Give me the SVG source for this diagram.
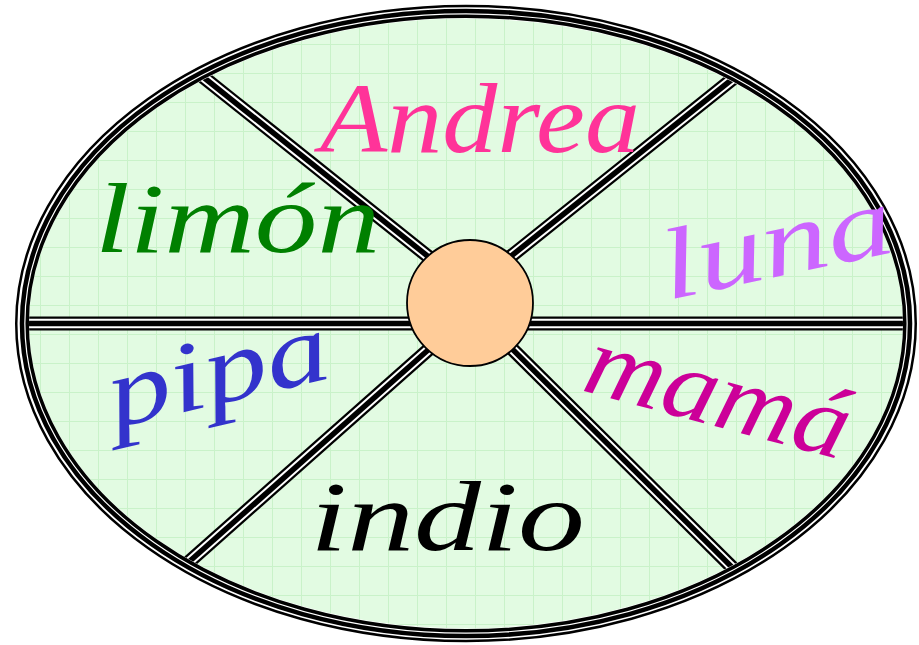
<svg xmlns="http://www.w3.org/2000/svg" width="919" height="645" viewBox="0 0 919 645">
  <defs>
    <pattern id="grid" width="29" height="29" patternUnits="userSpaceOnUse" x="11" y="15">
      <rect width="29" height="29" fill="#E2FBE2"/>
      <path d="M0 0.5H29M0.5 0V29" stroke="#C9F2C9" stroke-width="1" fill="none"/>
    </pattern>
    <clipPath id="inside">
      <ellipse cx="466" cy="323.5" rx="439" ry="307"/>
    </clipPath>
  </defs>
  <style>
    .s1{stroke:#000;stroke-width:14;fill:none}
    .s2{stroke:#fff;stroke-width:9.5;fill:none}
    .s3{stroke:#000;stroke-width:5.5;fill:none}
    .w{font-family:"Liberation Serif","DejaVu Serif",serif;font-style:italic;font-size:100px}
  </style>
  <rect width="919" height="645" fill="#fff"/>
  <g id="board">
    <ellipse cx="466" cy="323.5" rx="444.5" ry="312" fill="url(#grid)"/>
  </g>
  <g id="connectors" clip-path="url(#inside)">
    <g class="s1">
      <line x1="0" y1="323.5" x2="440" y2="323.5"/>
      <line x1="500" y1="323.5" x2="919" y2="323.5"/>
      <line x1="180" y1="58.5" x2="445" y2="270"/>
      <line x1="760" y1="57" x2="495" y2="269"/>
      <line x1="160" y1="587.5" x2="445" y2="335"/>
      <line x1="760" y1="595" x2="497" y2="334"/>
    </g>
    <g class="s2">
      <line x1="0" y1="323.5" x2="440" y2="323.5"/>
      <line x1="500" y1="323.5" x2="919" y2="323.5"/>
      <line x1="180" y1="58.5" x2="445" y2="270"/>
      <line x1="760" y1="57" x2="495" y2="269"/>
      <line x1="160" y1="587.5" x2="445" y2="335"/>
      <line x1="760" y1="595" x2="497" y2="334"/>
    </g>
    <g class="s3">
      <line x1="0" y1="323.5" x2="440" y2="323.5"/>
      <line x1="500" y1="323.5" x2="919" y2="323.5"/>
      <line x1="180" y1="58.5" x2="445" y2="270"/>
      <line x1="760" y1="57" x2="495" y2="269"/>
      <line x1="160" y1="587.5" x2="445" y2="335"/>
      <line x1="760" y1="595" x2="497" y2="334"/>
    </g>
  </g>
  <g id="rim" fill="none">
    <ellipse cx="466" cy="323.5" rx="444" ry="312" stroke="#fff" stroke-width="14"/>
    <ellipse cx="466" cy="323.5" rx="449.75" ry="317.5" stroke="#000" stroke-width="2.5"/>
    <ellipse cx="466" cy="323.5" rx="444" ry="312.5" stroke="#000" stroke-width="4.5"/>
    <ellipse cx="466" cy="323.5" rx="438.8" ry="307.3" stroke="#000" stroke-width="3.5"/>
  </g>
  <g id="hub">
    <circle cx="470" cy="303" r="63" fill="#FFCC99" stroke="#000" stroke-width="1.8"/>
  </g>
  <g id="andrea"><text class="w" x="320" y="152" fill="#FF3399" textLength="320" lengthAdjust="spacingAndGlyphs">Andrea</text></g>
  <g id="limon"><text class="w" x="95" y="252" fill="#008000" textLength="285" lengthAdjust="spacingAndGlyphs">limón</text></g>
  <g id="luna"><text class="w" x="668" y="300" fill="#CC66FF" transform="rotate(-12 668 300)" textLength="235" lengthAdjust="spacingAndGlyphs">luna</text></g>
  <g id="pipa"><text class="w" x="115" y="428" fill="#3333CC" transform="rotate(-13 115 428)" textLength="225" lengthAdjust="spacingAndGlyphs">pipa</text></g>
  <g id="mama"><text class="w" x="580" y="390" fill="#CC0099" transform="rotate(15 580 390)" textLength="270" lengthAdjust="spacingAndGlyphs">mamá</text></g>
  <g id="indio"><text class="w" x="310" y="550" fill="#000" textLength="275" lengthAdjust="spacingAndGlyphs">indio</text></g>
</svg>
